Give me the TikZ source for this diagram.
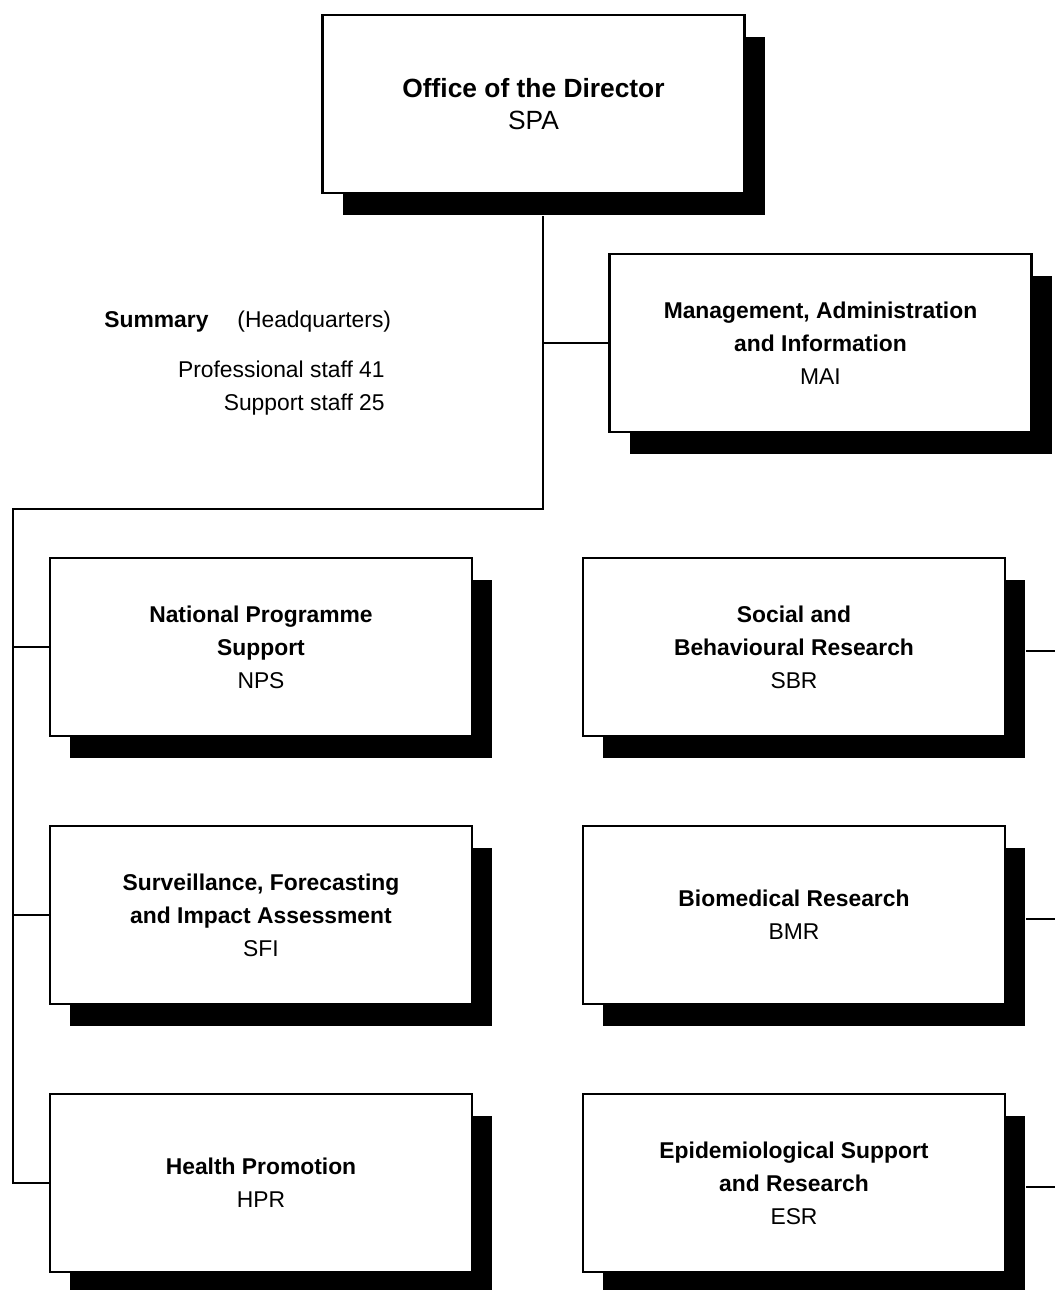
\documentclass[tikz,border=0pt]{standalone}
\usepackage{fontspec}
\setmainfont{Liberation Sans}
\usetikzlibrary{positioning, calc, shadows}

\begin{document}
\begin{tikzpicture}[node distance=5.36cm, on grid,
    unit/.style={draw, fill=white, line width=1.2pt, minimum width=8.44cm, minimum height=3.57cm,
        align=center, font=\fontsize{13}{18.7}\selectfont,
        text depth=0pt,
        drop shadow={shadow xshift=0.4cm, shadow yshift=-0.44cm, fill=black, opacity=1}},
    note/.style={inner sep=0pt, font=\fontsize{13}{18.7}\selectfont},
    link/.style={line width=1.1pt}]
   \useasboundingbox (0,0) rectangle (21.1,-25.8);
   \node[unit, font=\fontsize{15}{18.7}\selectfont] (spa) at (10.67,-2.08) {\textbf{Office of the Director}\\SPA};
   \node[unit] (mai) [below right=4.78cm and 5.74cm of spa] {\textbf{Management, Administration}\\\textbf{and Information}\\MAI};
   \node[unit] (nps) [below left=10.86cm and 5.45cm of spa] {\textbf{National Programme}\\\textbf{Support}\\NPS};
   \node[unit] (sfi) [below=of nps] {\textbf{Surveillance, Forecasting}\\\textbf{and Impact Assessment}\\SFI};
   \node[unit] (hpr) [below=of sfi] {\textbf{Health Promotion}\\HPR};
   \node[unit] (sbr) [right=10.66cm of nps] {\textbf{Social and}\\\textbf{Behavioural Research}\\SBR};
   \node[unit] (bmr) [below=of sbr] {\textbf{Biomedical Research}\\BMR};
   \node[unit] (esr) [below=of bmr] {\textbf{Epidemiological Support}\\\textbf{and Research}\\ESR};

   \node[note, anchor=base west] (summary) at (2.08,-6.54) {\textbf{Summary}\hspace{0.58cm}(Headquarters)};
   \node[note, anchor=north east, align=right] (staff) at (7.7,-7.22) {Professional staff 41\\Support staff 25};

   \coordinate (trunk) at ($(spa.south)+(0.19,-0.44)$);
   \coordinate[below=5.86cm of trunk] (fork);
   \coordinate[left=10.6cm of fork] (corner);
   \coordinate (edge) at (21.1,0);

   \draw[link] (trunk) -- (fork) -- (corner) |- (hpr.west);
   \draw[link] (mai.west) -- (mai.west -| trunk);
   \draw[link] (nps.west) -- (nps.west -| corner);
   \draw[link] (sfi.west) -- (sfi.west -| corner);
   \foreach \n in {sbr,bmr,esr}
      \draw[link] ($(\n.east)+(0.4,-0.08)$) -- ($(\n.east -| edge)+(0,-0.08)$);
\end{tikzpicture}
\end{document}
